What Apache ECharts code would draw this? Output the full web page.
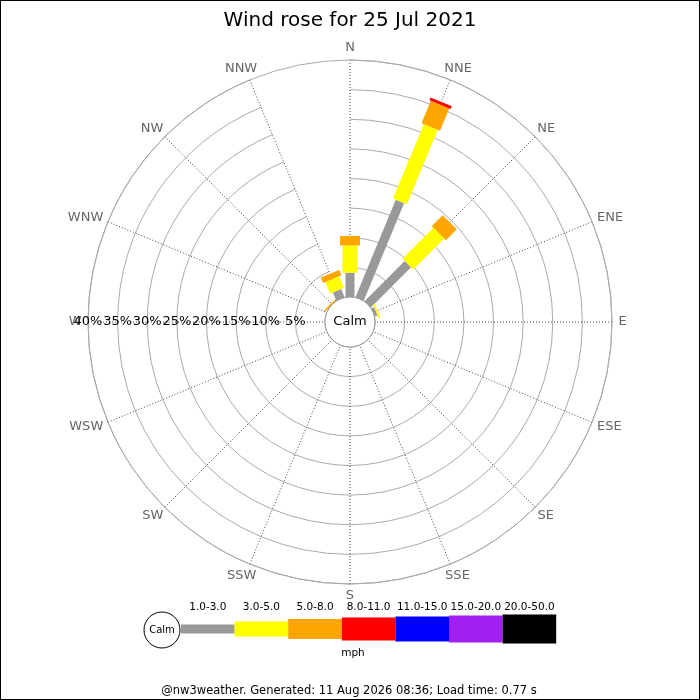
<!DOCTYPE html>
<html>
<head>
<meta charset="utf-8">
<script src="https://cdn.jsdelivr.net/npm/echarts@6/dist/echarts.min.js"></script>
<style>
html,body{margin:0;padding:0;background:#fff;}
#c{width:698px;height:698px;border:1px solid #000;}
</style>
</head>
<body>
<div id="c"></div>
<script>
// ---- data ----
var titleText = 'Wind rose for 25 Jul 2021';
var footerText = '@nw3weather. Generated: 11 Aug 2026 08:36; Load time: 0.77 s';
var directions = ['N','NNE','NE','ENE','E','ESE','SE','SSE','S','SSW','SW','WSW','W','WNW','NW','NNW'];
var bandLabels = ['1.0-3.0','3.0-5.0','5.0-8.0','8.0-11.0','11.0-15.0','15.0-20.0','20.0-50.0'];
var bandColors = ['#999999','#ffff00','#ffa500','#ff0000','#0000ff','#a020f0','#000000'];
// percentage of time per direction, per speed band (mph)
var band1 = [4.1, 17.8, 9.6, 0.5, 0, 0, 0, 0, 0, 0, 0, 0, 0, 0, 0,    1.5];
var band2 = [4.6, 13.6, 7.4, 0.3, 0, 0, 0, 0, 0, 0, 0, 0, 0, 0, 0,    2.1];
var band3 = [1.6, 4.1,  2.6, 0,   0, 0, 0, 0, 0, 0, 0, 0, 0, 0, 0.25, 1.0];
var band4 = [0,   0.5,  0,   0,   0, 0, 0, 0, 0, 0, 0, 0, 0, 0, 0,    0];
var band5 = [0,0,0,0,0,0,0,0,0,0,0,0,0,0,0,0];
var band6 = [0,0,0,0,0,0,0,0,0,0,0,0,0,0,0,0];
var band7 = [0,0,0,0,0,0,0,0,0,0,0,0,0,0,0,0];
var ringMax = 40, ringStep = 5;
var unitText = 'mph';
var calmText = 'Calm';

// ---- styles ----
var FONT = 'DejaVu Sans';
var DIR_FONT = '13px "DejaVu Sans"';
var bandWidths = [9, 15, 20, 23, 25, 27, 29];
var CX = 349, CY = 321, R0 = 25, R1 = 262;

var bands = [band1, band2, band3, band4, band5, band6, band7];
var rectData = [];
for (var d = 0; d < directions.length; d++) {
  var acc = 0;
  for (var b = 0; b < bands.length; b++) {
    var v = bands[b][d];
    if (v > 0) {
      rectData.push([acc + v, d, acc, b]);
      acc += v;
    }
  }
}
var dirLabelData = directions.map(function (n, i) { return [ringMax, i]; });

var measureCtx = document.createElement('canvas').getContext('2d');
measureCtx.font = DIR_FONT;
function textW(s) { return measureCtx.measureText(s).width; }

var chart = echarts.init(document.getElementById('c'));

// legend graphics
var legendEls = [];
var lgX0 = 180, lgW = 53.6, lgY = 628;
legendEls.push({type:'circle', shape:{cx:161, cy:629, r:18}, style:{fill:'#fff', stroke:'#000', lineWidth:1}});
legendEls.push({type:'text', style:{text:calmText, x:161, y:629, align:'center', verticalAlign:'middle', font:'10px "DejaVu Sans"', fill:'#000'}});
for (var i = 0; i < bandLabels.length; i++) {
  var h = bandWidths[i];
  legendEls.push({type:'rect', shape:{x:lgX0 + i*lgW, y:lgY - h/2, width:lgW, height:h}, style:{fill:bandColors[i]}});
  legendEls.push({type:'text', style:{text:bandLabels[i], x:lgX0 + i*lgW + lgW/2, y:606, align:'center', verticalAlign:'middle', font:'10.5px "DejaVu Sans"', fill:'#000'}});
}
legendEls.push({type:'text', style:{text:unitText, x:352, y:652, align:'center', verticalAlign:'middle', font:'10.5px "DejaVu Sans"', fill:'#000'}});
legendEls.push({type:'text', style:{text:footerText, x:348, y:690, align:'center', verticalAlign:'middle', font:'11.5px "DejaVu Sans"', fill:'#000'}});

var option = {
  animation: false,
  backgroundColor: '#fff',
  textStyle: {fontFamily: FONT},
  title: {
    text: titleText, left: 'center', top: 5,
    textStyle: {fontFamily: FONT, fontSize: 20, fontWeight: 'normal', color: '#000'}
  },
  polar: [
    {center: [CX, CY], radius: [R0, R1]},
    {center: [CX, CY], radius: [R0, R1]}
  ],
  angleAxis: [
    {
      polarIndex: 0, type: 'category', data: directions, boundaryGap: false,
      startAngle: 90, clockwise: true,
      axisLine: {show: true, lineStyle: {color: '#aaaaaa', width: 1}},
      axisTick: {show: false},
      axisLabel: {show: false},
      splitLine: {show: true, lineStyle: {color: '#444444', width: 1, type: [1, 2]}}
    },
    {
      polarIndex: 1, type: 'value', min: 0, max: 360, startAngle: 180,
      axisLine: {show: false}, axisTick: {show: false}, axisLabel: {show: false}, splitLine: {show: false}
    }
  ],
  radiusAxis: [
    {
      polarIndex: 0, type: 'value', min: 0, max: ringMax, interval: ringStep,
      axisLine: {show: false}, axisTick: {show: false}, axisLabel: {show: false},
      splitLine: {show: true, lineStyle: {color: '#aaaaaa', width: 1}}
    },
    {
      polarIndex: 1, type: 'value', min: 0, max: ringMax, interval: ringStep, z: 10,
      axisLine: {show: false}, axisTick: {show: false}, splitLine: {show: false},
      axisLabel: {
        show: true, showMinLabel: false, margin: 0, align: 'center', verticalAlign: 'middle',
        color: '#000', fontSize: 13, fontFamily: FONT,
        formatter: function (v) { return v === 0 ? '' : v + '%'; }
      }
    }
  ],
  series: [
    {
      type: 'custom', coordinateSystem: 'polar', polarIndex: 0, z: 5,
      data: rectData,
      renderItem: function (params, api) {
        var cs = params.coordSys;
        var r1v = api.value(0), dir = api.value(1), r0v = api.value(2), b = api.value(3);
        var p0 = api.coord([r0v, dir]);
        var p1 = api.coord([r1v, dir]);
        var ux = p0[0] - cs.cx, uy = p0[1] - cs.cy;
        var L = Math.sqrt(ux*ux + uy*uy) || 1;
        ux /= L; uy /= L;
        var nx = -uy, ny = ux;
        var hw = bandWidths[b] / 2;
        return {
          type: 'polygon',
          shape: {points: [
            [p0[0] + nx*hw, p0[1] + ny*hw],
            [p1[0] + nx*hw, p1[1] + ny*hw],
            [p1[0] - nx*hw, p1[1] - ny*hw],
            [p0[0] - nx*hw, p0[1] - ny*hw]
          ]},
          style: {fill: bandColors[b], stroke: null}
        };
      }
    },
    {
      type: 'custom', coordinateSystem: 'polar', polarIndex: 0, z: 6,
      data: [[0, 0]],
      renderItem: function (params, api) {
        var cs = params.coordSys;
        return {
          type: 'group',
          children: [
            {type: 'circle', shape: {cx: cs.cx, cy: cs.cy, r: cs.r0}, style: {fill: '#fff', stroke: '#999', lineWidth: 1}},
            {type: 'text', style: {text: calmText, x: cs.cx, y: cs.cy, align: 'center', verticalAlign: 'middle', font: '13px "DejaVu Sans"', fill: '#000'}}
          ]
        };
      }
    },
    {
      type: 'custom', coordinateSystem: 'polar', polarIndex: 0, z: 4,
      data: dirLabelData,
      renderItem: function (params, api) {
        var cs = params.coordSys;
        var d = api.value(1);
        var p = api.coord([api.value(0), d]);
        var ux = p[0] - cs.cx, uy = p[1] - cs.cy;
        var L = Math.sqrt(ux*ux + uy*uy) || 1;
        ux /= L; uy /= L;
        var name = directions[d];
        var hw = textW(name) / 2, hh = 5.5, g = 6.5;
        return {
          type: 'text',
          style: {text: name, x: p[0] + ux*(g + hw), y: p[1] + uy*(g + hh), align: 'center', verticalAlign: 'middle',
                  font: DIR_FONT, fill: '#666666'}
        };
      }
    }
  ],
  graphic: legendEls
};
chart.setOption(option);
</script>
</body>
</html>
